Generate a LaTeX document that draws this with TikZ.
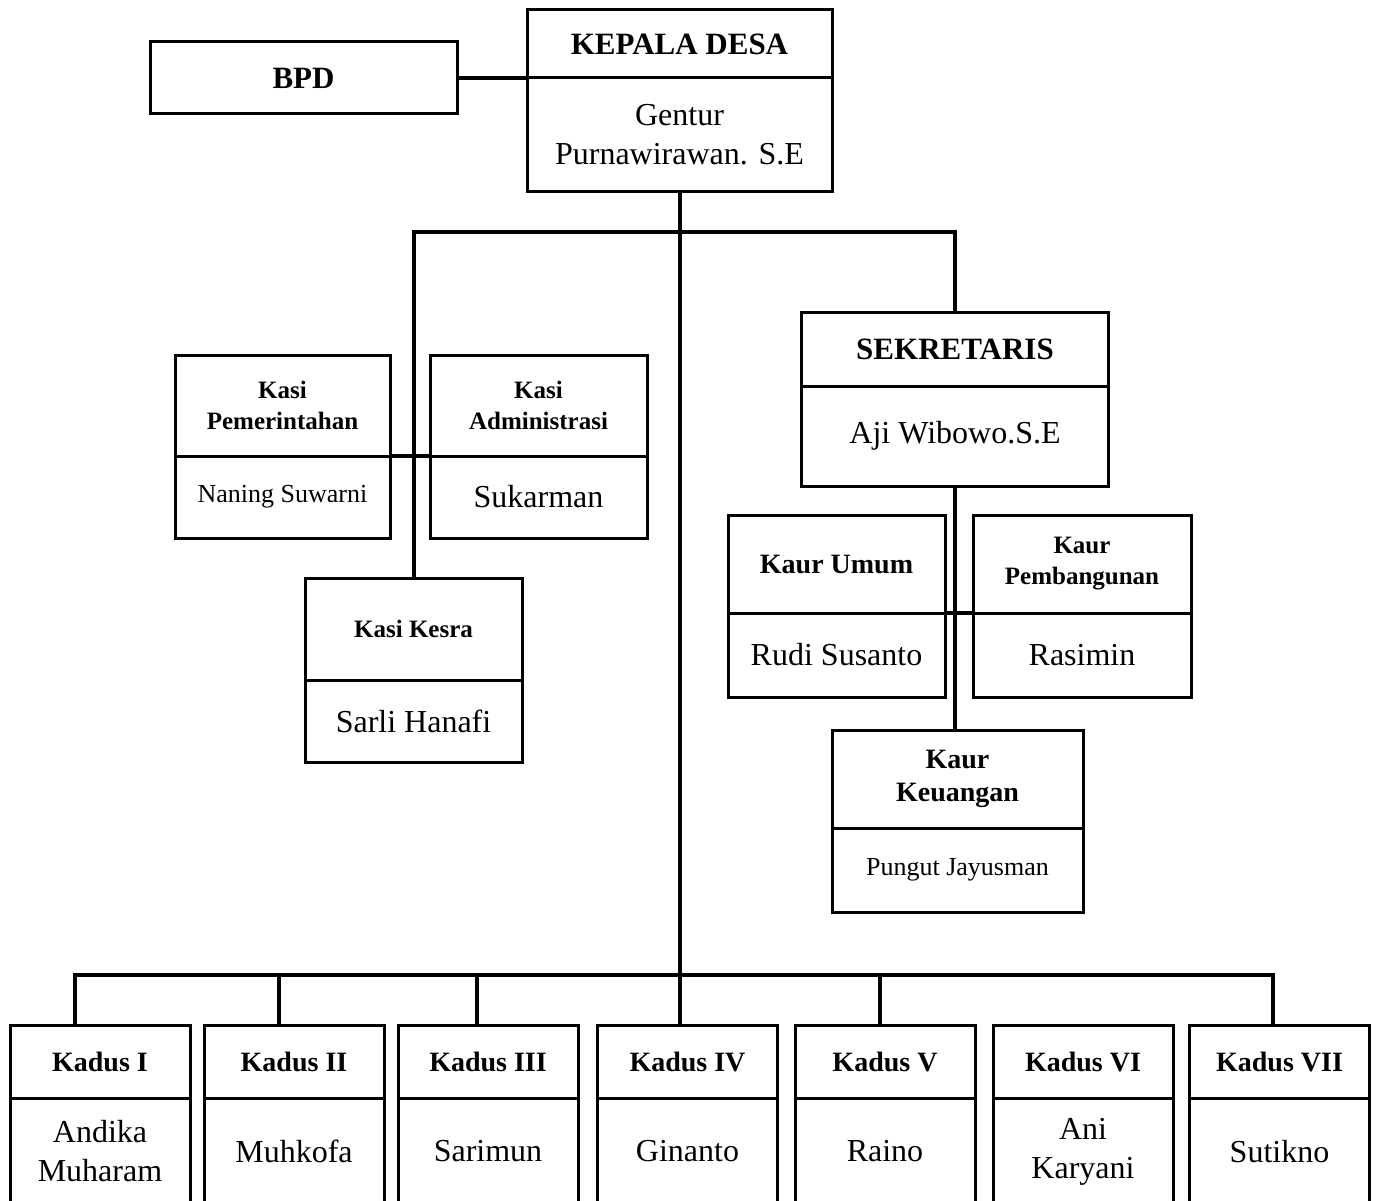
\documentclass[tikz,border=0pt]{standalone}
\usepackage{fontspec}
\setmainfont{Liberation Serif}
\usetikzlibrary{positioning}
\tikzset{hd/.style={draw, line width=3pt, outer sep=0pt, inner sep=1pt, align=center, font=\bfseries\fontsize{28}{33}\selectfont},
  nm/.style={draw, line width=3pt, outer sep=0pt, inner sep=1pt, align=center, font=\fontsize{32}{39}\selectfont},
  big/.style={font=\bfseries\fontsize{31}{36}\selectfont},
  smb/.style={font=\bfseries\fontsize{25}{31}\selectfont},
  sm/.style={font=\fontsize{26}{31}\selectfont},
  ln/.style={line width=4pt}}

\begin{document}
\begin{tikzpicture}[x=1pt,y=-1pt]
            \useasboundingbox (0,0) rectangle (1376,1201);
            % top
            \node[hd, big, minimum width=305, minimum height=68] (kades) at (679.5,44) {KEPALA DESA};
            \node[nm, minimum width=305, minimum height=114, below=0pt of kades] (kadesN) {Gentur\\Purnawirawan. S.E};
            \node[hd, big, minimum width=307, minimum height=72] (bpd) at (303.5,78) {BPD};
            % kasi
            \node[hd, smb, minimum width=215, minimum height=101] (kapem) at (282.5,405.5) {Kasi\\Pemerintahan};
            \node[nm, sm, minimum width=215, minimum height=82, below=0pt of kapem] (kapemN) {Naning Suwarni};
            \node[hd, smb, minimum width=217, minimum height=101] (kadm) at (538.5,405.5) {Kasi\\Administrasi};
            \node[nm, minimum width=217, minimum height=82, below=0pt of kadm] (kadmN) {Sukarman};
            \node[hd, smb, minimum width=217, minimum height=102] (kesra) at (413.5,629) {Kasi Kesra};
            \node[nm, minimum width=217, minimum height=82, below=0pt of kesra] (kesraN) {Sarli Hanafi};
            % sekretaris, kaur
            \node[hd, big, minimum width=307, minimum height=74] (sek) at (955,349) {SEKRETARIS};
            \node[nm, minimum width=307, minimum height=100, below=0pt of sek] (sekN) {Aji Wibowo.S.E};
            \node[hd, minimum width=217, minimum height=98] (kumum) at (836.5,564) {Kaur Umum};
            \node[nm, minimum width=217, minimum height=84, below=0pt of kumum] (kumumN) {Rudi Susanto};
            \node[hd, smb, minimum width=218, minimum height=98] (kpemb) at (1082,564) {Kaur\\Pembangunan};
            \node[nm, minimum width=218, minimum height=84, below=0pt of kpemb] (kpembN) {Rasimin};
            \node[hd, minimum width=251, minimum height=98] (kkeu) at (957.5,779) {Kaur\\Keuangan};
            \node[nm, sm, minimum width=251, minimum height=84, below=0pt of kkeu] (kkeuN) {Pungut Jayusman};
            % kadus
            \node[hd, minimum width=180, minimum height=73] (kd1) at (100,1061.5) {Kadus I};
            \node[nm, minimum width=180, minimum height=107, below=0pt of kd1] (kd1N) {Andika\\Muharam};
            \node[hd, minimum width=180, minimum height=73] (kd2) at (294,1061.5) {Kadus II};
            \node[nm, minimum width=180, minimum height=107, below=0pt of kd2] (kd2N) {Muhkofa};
            \node[hd, minimum width=180, minimum height=73] (kd3) at (488,1061.5) {Kadus III};
            \node[nm, minimum width=180, minimum height=107, below=0pt of kd3] (kd3N) {Sarimun};
            \node[hd, minimum width=180, minimum height=73] (kd4) at (687.5,1061.5) {Kadus IV};
            \node[nm, minimum width=180, minimum height=107, below=0pt of kd4] (kd4N) {Ginanto};
            \node[hd, minimum width=180, minimum height=73] (kd5) at (885,1061.5) {Kadus V};
            \node[nm, minimum width=180, minimum height=107, below=0pt of kd5] (kd5N) {Raino};
            \node[hd, minimum width=180, minimum height=73] (kd6) at (1083,1061.5) {Kadus VI};
            \node[nm, minimum width=180, minimum height=107, below=0pt of kd6] (kd6N) {Ani\\Karyani};
            \node[hd, minimum width=180, minimum height=73] (kd7) at (1279.5,1061.5) {Kadus VII};
            \node[nm, minimum width=180, minimum height=107, below=0pt of kd7] (kd7N) {Sutikno};
            % lines
            \coordinate (br) at (680,232);
            \coordinate (bus) at (680,975);
            \draw[ln] (bpd) -- (kades.south west);
            \draw[ln] (kadesN.south) -- (kadesN.south |- kd4.north);
            \draw[ln] (kesra.north) |- (br) -| (sek.north);
            \draw[ln] (kapem.south east) -- (kadm.south west);
            \draw[ln] (sekN.south) -- (sekN.south |- kkeu.north);
            \draw[ln] (kumum.south east) -- (kpemb.south west);
            \draw[ln] ([xshift=-25]kd1.north) |- (bus) -| ([xshift=-7]kd7.north);
            \draw[ln] ([xshift=-15]kd2.north) -- ([xshift=-15]kd2.north |- bus);
            \draw[ln] ([xshift=-11]kd3.north) -- ([xshift=-11]kd3.north |- bus);
            \draw[ln] ([xshift=-5]kd5.north) -- ([xshift=-5]kd5.north |- bus);
        \end{tikzpicture}
\end{document}
